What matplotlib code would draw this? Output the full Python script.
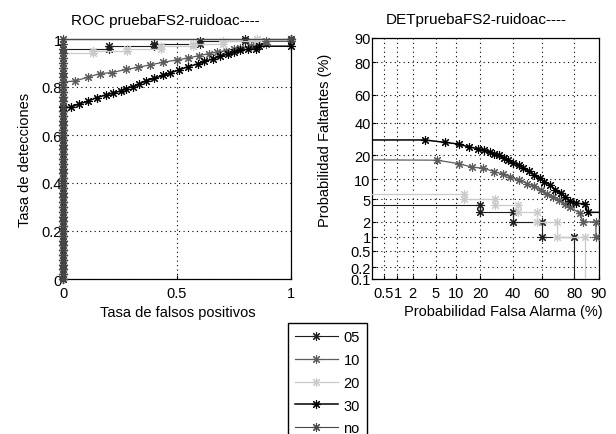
import math

import numpy as np
import matplotlib
matplotlib.use("Agg")
import matplotlib.pyplot as plt

plt.rcParams['font.family'] = ['Liberation Sans', 'DejaVu Sans']
plt.rcParams['font.size'] = 10

# series names (legend order)
series = ["05", "10", "20", "30", "no"]

# false alarm (%) and miss (%) per series
fa_05 = [0, 20, 20, 40, 40, 60, 60, 80, 80, 100]
miss_05 = [4, 4, 3, 3, 2, 2, 1, 1, 0, 0]

fa_10 = [0, 5.3, 11, 16.2, 21.5, 27.5, 33, 38, 44, 50, 55, 59.7, 64, 67.6,
         71.4, 74.8, 77.6, 82.6, 84, 89, 89, 100, 100]
miss_10 = [17.9, 17.5, 15.9, 14.4, 14, 12.7, 11.8, 10.8, 9.7, 8.7, 7.9, 6.9,
           6.1, 5.4, 4.8, 4.2, 3.7, 2.9, 2, 2, 1, 1, 0]

fa_20 = [0, 13, 13, 28, 28, 43, 43, 57, 57, 70, 70, 85, 85, 100]
miss_20 = [6, 6, 5, 5, 4, 4, 3, 3, 2, 2, 1, 1, 0, 0]

fa_30 = [0, 3.3, 7.1, 11, 14.7, 19, 22, 25.4, 27.5, 30.5, 33.5, 36.5, 40, 44,
         47, 51, 55, 59, 62, 66, 69, 72.5, 75, 77.6, 81, 84.8, 86, 100, 100]
miss_30 = [28.5, 28.5, 27, 26, 24.4, 23.3, 22.5, 21.6, 20.7, 19.8, 18.7, 17.4,
           16.4, 15.2, 14.2, 12.8, 11.5, 10.4, 9.3, 8.3, 7.1, 6.3, 5.5, 4.7,
           4.3, 4.2, 3, 3, 0]

fa_no = [0, 100]
miss_no = [0, 0]

# detection rates stacked at zero false positives in the ROC panel
roc_stack = [0.00, 0.02, 0.04, 0.06, 0.08, 0.10, 0.12, 0.14, 0.16, 0.18,
             0.20, 0.22, 0.24, 0.26, 0.28, 0.30, 0.32, 0.34, 0.36, 0.38,
             0.40, 0.42, 0.44, 0.46, 0.48, 0.50, 0.52, 0.54, 0.56, 0.58,
             0.60, 0.62, 0.64, 0.66, 0.68, 0.70, 0.72, 0.74, 0.76, 0.78,
             0.80, 0.82, 0.84, 0.86, 0.88, 0.90, 0.92, 0.94, 0.96, 0.98]

roc_ticks = [0, 0.2, 0.4, 0.6, 0.8, 1]
det_xticks = [0.5, 1, 2, 5, 10, 20, 40, 60, 80, 90]
det_yticks = [0.1, 0.2, 0.5, 1, 2, 5, 10, 20, 40, 60, 80, 90]

data = {"05": (fa_05, miss_05), "10": (fa_10, miss_10), "20": (fa_20, miss_20),
        "30": (fa_30, miss_30), "no": (fa_no, miss_no)}
colors = {"05": "#1e1e1e", "10": "#5c5c5c", "20": "#cacaca", "30": "#000000",
          "no": "#484848"}
widths = {"05": 0.8, "10": 0.9, "20": 0.9, "30": 1.1, "no": 0.8}

A = [-3.969683028665376e+01, 2.209460984245205e+02, -2.759285104469687e+02,
     1.383577518672690e+02, -3.066479806614716e+01, 2.506628277459239e+00]
B = [-5.447609879822406e+01, 1.615858368580409e+02, -1.556989798598866e+02,
     6.680131188771972e+01, -1.328068155288572e+01]
C = [-7.784894002430293e-03, -3.223964580411365e-01, -2.400758277161838e+00,
     -2.549732539343734e+00, 4.374664141464968e+00, 2.938163982698783e+00]
D = [7.784695709041462e-03, 3.224671290700398e-01, 2.445134137142996e+00,
     3.754408661907416e+00]


def probit(pct):
    p = np.clip(np.asarray(pct, dtype=float) / 100.0, 1e-7, 1 - 1e-7)
    q = np.sqrt(-2 * np.log(np.minimum(p, 1 - p)))
    tail = ((((C[0] * q + C[1]) * q + C[2]) * q + C[3]) * q + C[4]) * q + C[5]
    tail = tail / ((((D[0] * q + D[1]) * q + D[2]) * q + D[3]) * q + 1)
    tail = np.where(p < 0.5, tail, -tail)
    r = p - 0.5
    s = r * r
    num = (((((A[0] * s + A[1]) * s + A[2]) * s + A[3]) * s + A[4]) * s + A[5]) * r
    den = ((((B[0] * s + B[1]) * s + B[2]) * s + B[3]) * s + B[4]) * s + 1
    return np.where(np.abs(r) < 0.47575, num / den, tail)


_erf = np.vectorize(math.erf)


def inv_probit(z):
    z = np.asarray(z, dtype=float)
    return 100.0 * 0.5 * (1 + _erf(z / math.sqrt(2)))


star = (8, 2, 0)

fig = plt.figure(figsize=(6.16, 4.35), dpi=100)
ax1 = fig.add_axes([63 / 616, 1 - 280 / 435, 228 / 616, 240 / 435])
ax2 = fig.add_axes([372 / 616, 1 - 280 / 435, 227 / 616, 241 / 435])

handles = []
for name in series:
    fa, miss = data[name]
    start = 1 - miss[0] / 100
    pre = [v for v in roc_stack if v < start - 0.005]
    rx = [0] * len(pre) + [f / 100 for f in fa]
    ry = pre + [1 - m / 100 for m in miss]
    h, = ax1.plot(rx, ry, color=colors[name], lw=widths[name], marker=star,
                  ms=6.5, mew=0.8, clip_on=False, label=name, zorder=3)
    handles.append(h)
    ax2.plot(fa, miss, color=colors[name], lw=widths[name], marker=star,
             ms=6.5, mew=0.8, zorder=3)

# ROC panel
ax1.set_xlim(0, 1)
ax1.set_ylim(0, 1)
ax1.set_xticks([0, 0.5, 1])
ax1.set_xticklabels(["0", "0.5", "1"])
ax1.set_yticks(roc_ticks)
ax1.set_yticklabels(["0", "0.2", "0.4", "0.6", "0.8", "1"])
ax1.grid(True, linestyle=(0, (1, 3)), color="k", lw=0.8)
ax1.set_xlabel("Tasa de falsos positivos", fontsize=10.5)
ax1.set_ylabel("Tasa de detecciones", fontsize=10.5)
ax1.xaxis.set_label_coords(0.504, -0.108)
ax1.yaxis.set_label_coords(-0.136, 0.5)
ax1.text(0.45, 1.078, "ROC pruebaFS2-ruidoac----", transform=ax1.transAxes,
         ha="center", va="center", fontsize=11)

# DET panel on normal deviate scales
ax2.set_xscale("function", functions=(probit, inv_probit))
ax2.set_yscale("function", functions=(probit, inv_probit))
ax2.set_xlim(0.27, 90)
ax2.set_ylim(0.1, 90)
ax2.set_xticks(det_xticks)
ax2.set_xticklabels([f"{v:g}" for v in det_xticks])
ax2.set_yticks(det_yticks)
ax2.set_yticklabels([f"{v:g}" for v in det_yticks])
ax2.minorticks_off()
ax2.grid(True, linestyle=(0, (1, 3)), color="k", lw=0.8)
ax2.set_xlabel("Probabilidad Falsa Alarma (%)", fontsize=10.5)
ax2.set_ylabel("Probabilidad Faltantes (%)", fontsize=10.5)
ax2.xaxis.set_label_coords(0.577, -0.104)
ax2.yaxis.set_label_coords(-0.176, 0.58)
ax2.text(0.46, 1.078, "DETpruebaFS2-ruidoac----", transform=ax2.transAxes,
         ha="center", va="center", fontsize=11)

for ax in (ax1, ax2):
    ax.tick_params(direction="in", length=3, width=0.8, labelsize=10.5)
    ax.tick_params(axis="x", pad=5)
    ax.tick_params(axis="y", pad=1)
    for sp in ax.spines.values():
        sp.set_linewidth(0.9)
        sp.set_color("k")

fig.legend(handles=handles, labels=series, loc="upper left",
           bbox_to_anchor=(288 / 616, 1 - 324 / 435), borderaxespad=0,
           fancybox=False, edgecolor="k", framealpha=1, handlelength=2.9,
           handletextpad=0.4, labelspacing=0.6, borderpad=0.5,
           fontsize=10.5)

fig.savefig("out.png", dpi=100)
